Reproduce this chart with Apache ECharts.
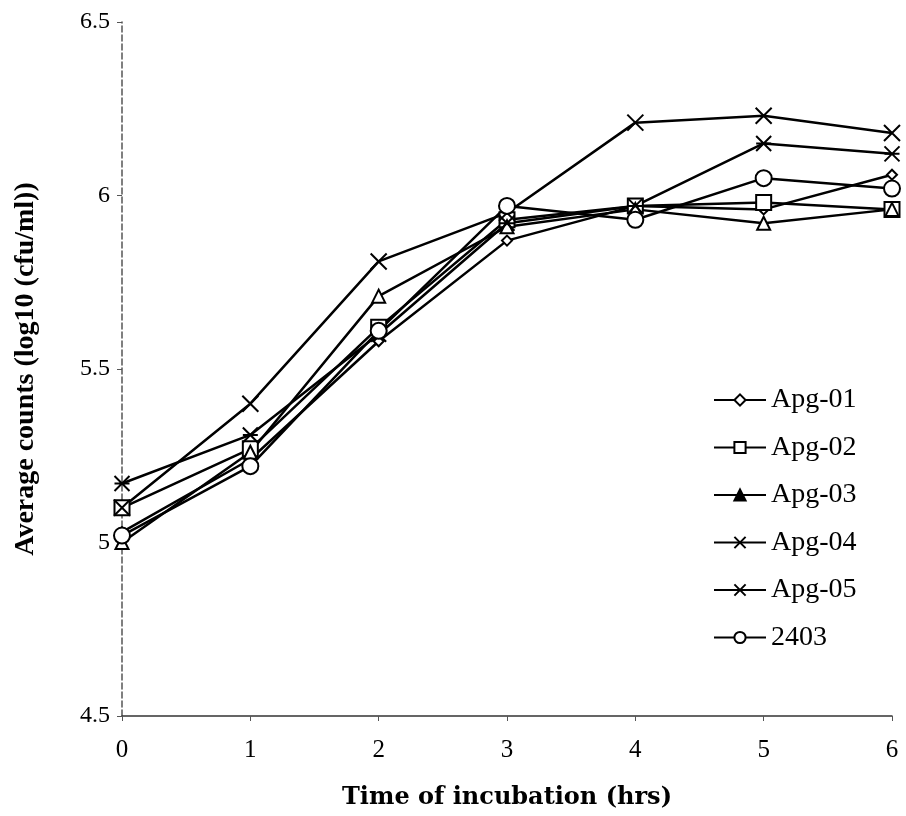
<!DOCTYPE html>
<html>
<head>
<meta charset="utf-8">
<script src="https://cdn.jsdelivr.net/npm/echarts@6/dist/echarts.min.js"></script>
<style>
  html, body { margin: 0; padding: 0; background: #fff; }
  #chart { width: 906px; height: 816px; }
</style>
</head>
<body>
<div id="chart"></div>
<script>
  // hours of incubation
  var hours = ['0', '1', '2', '3', '4', '5', '6']
  // average counts, log10 (cfu/ml)
  var apg01 = [5.03, 5.24, 5.58, 5.87, 5.97, 5.96, 6.06]
  var apg02 = [5.10, 5.27, 5.62, 5.93, 5.97, 5.98, 5.96]
  var apg03 = [5.00, 5.26, 5.71, 5.91, 5.96, 5.92, 5.96]
  var apg04 = [5.10, 5.40, 5.81, 5.95, 6.21, 6.23, 6.18]
  var apg05 = [5.17, 5.31, 5.60, 5.92, 5.97, 6.15, 6.12]
  var s2403 = [5.02, 5.22, 5.61, 5.97, 5.93, 6.05, 6.02]
  var names = ['Apg-01', 'Apg-02', 'Apg-03', 'Apg-04', 'Apg-05', '2403']

  var serif = '"Liberation Serif", "DejaVu Serif", serif'
  var wideSerif = '"DejaVu Serif", "Liberation Serif", serif'
  var crossPath = 'path://M0,0L10,10M10,0L0,10'
  var starPath = 'path://M0,0L10,10M10,0L0,10M0,5L10,5'

  function makeSeries(name, data, symbol, size) {
    return {
      name: name,
      type: 'line',
      data: data,
      symbol: symbol,
      symbolSize: size,
      showAllSymbol: true,
      lineStyle: { color: '#000', width: 2.5 },
      itemStyle: { color: '#fff', borderColor: '#000', borderWidth: 2 }
    }
  }

  var chart = echarts.init(document.getElementById('chart'))
  chart.setOption({
    animation: false,
    backgroundColor: '#fff',
    grid: { left: 122, right: 14, top: 22, bottom: 100 },
    legend: {
      orient: 'vertical',
      left: 708,
      top: 381,
      itemWidth: 52,
      itemHeight: 14,
      itemGap: 19.5,
      textStyle: { fontFamily: serif, fontSize: 28, color: '#000' },
      data: [
        { name: 'Apg-01' },
        { name: 'Apg-02' },
        { name: 'Apg-03', itemStyle: { color: '#000' } },
        { name: 'Apg-04' },
        { name: 'Apg-05' },
        { name: '2403' }
      ]
    },
    xAxis: {
      type: 'category',
      data: hours,
      boundaryGap: false,
      name: 'Time of incubation (hrs)',
      nameLocation: 'middle',
      nameGap: 70,
      nameTextStyle: { fontFamily: wideSerif, fontSize: 24, fontWeight: 'bold', color: '#000' },
      axisLine: { lineStyle: { color: '#333', width: 1.5 } },
      axisTick: { show: true, length: 5, alignWithLabel: true, lineStyle: { color: '#555' } },
      axisLabel: { fontFamily: serif, fontSize: 25, color: '#000', margin: 22 },
      splitLine: { show: false }
    },
    yAxis: {
      type: 'value',
      min: 4.5,
      max: 6.5,
      interval: 0.5,
      name: 'Average counts (log10 (cfu/ml))',
      nameLocation: 'middle',
      nameGap: 82,
      nameRotate: 90,
      nameTextStyle: { fontFamily: serif, fontSize: 28, fontWeight: 'bold', color: '#000' },
      axisLine: { show: true, lineStyle: { color: '#555', width: 1.5, type: 'dashed' } },
      axisTick: { show: true, length: 5, lineStyle: { color: '#555' } },
      axisLabel: {
        fontFamily: serif, fontSize: 24, color: '#000', margin: 12,
        formatter: function (v) { return v === 5 || v === 6 ? String(v) : v.toFixed(1) }
      },
      splitLine: { show: false }
    },
    series: [
      makeSeries(names[0], apg01, 'diamond', 10),
      makeSeries(names[1], apg02, 'rect', 15),
      makeSeries(names[2], apg03, 'triangle', 13),
      makeSeries(names[3], apg04, crossPath, 16),
      makeSeries(names[4], apg05, starPath, 15),
      makeSeries(names[5], s2403, 'circle', 16)
    ]
  })
</script>
</body>
</html>
